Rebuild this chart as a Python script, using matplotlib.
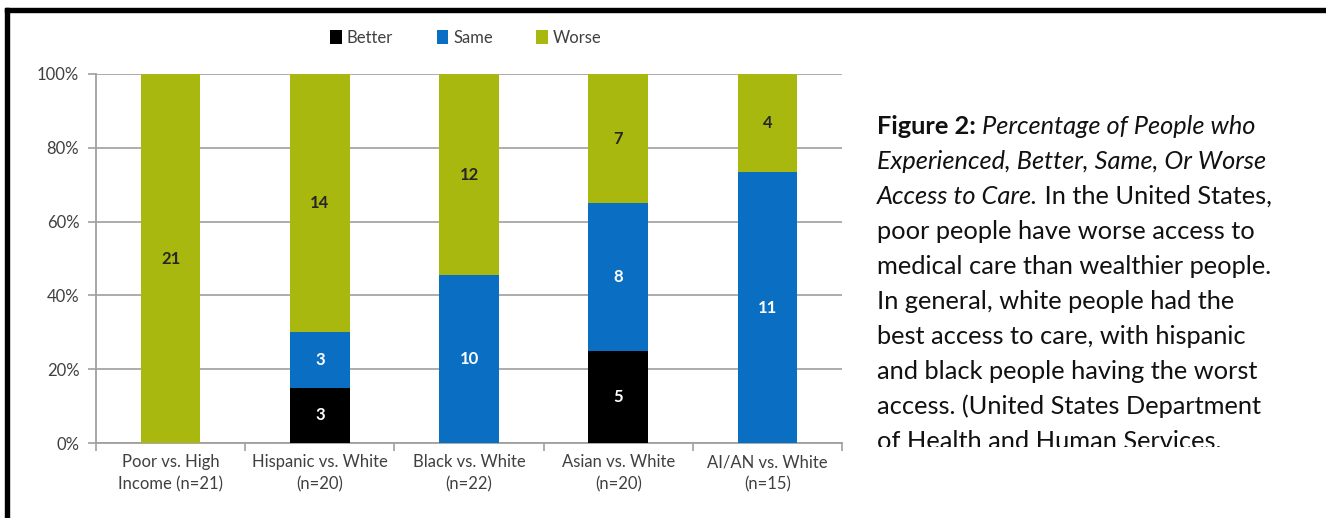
import numpy as np
import matplotlib.pyplot as plt
from matplotlib.patches import Rectangle
from matplotlib.ticker import PercentFormatter

# counts
groups = ["Poor vs. High\nIncome (n=21)", "Hispanic vs. White\n(n=20)", "Black vs. White\n(n=22)",
          "Asian vs. White\n(n=20)", "AI/AN vs. White\n(n=15)"]
better = np.array([0, 3, 0, 5, 0])
same = np.array([0, 3, 10, 8, 11])
worse = np.array([21, 14, 12, 7, 4])

caption_lines = [
    [("Figure 2:", "normal", "bold"), (" Percentage of People who", "italic", "normal")],
    [("Experienced, Better, Same, Or Worse", "italic", "normal")],
    [("Access to Care.", "italic", "normal"), (" In the United States,", "normal", "normal")],
    [("poor people have worse access to", "normal", "normal")],
    [("medical care than wealthier people.", "normal", "normal")],
    [("In general, white people had the", "normal", "normal")],
    [("best access to care, with hispanic", "normal", "normal")],
    [("and black people having the worst", "normal", "normal")],
    [("access. (United States Department", "normal", "normal")],
    [("of Health and Human Services.", "normal", "normal")],
]

W, H = 1326, 518
plt.rcParams['font.family'] = ['Lato', 'DejaVu Sans']
fig = plt.figure(figsize=(W / 100, H / 100), dpi=100)

total = better + same + worse
colors = {"Better": "#000000", "Same": "#0A6FC2", "Worse": "#A8B80E"}

ax = fig.add_axes([96 / W, 1 - 443 / H, 746 / W, 369 / H])
x = np.arange(len(groups))
bottom = np.zeros(len(groups))
for name, vals, tc in [("Better", better, "white"), ("Same", same, "white"), ("Worse", worse, "#262626")]:
    frac = vals / total
    bars = ax.bar(x, frac, 0.4, bottom=bottom, color=colors[name], label=name, zorder=3)
    labels = [str(v) if v > 0 else "" for v in vals]
    ax.bar_label(bars, labels=labels, label_type='center', color=tc, fontsize=12, fontweight='bold')
    bottom += frac

ax.set_xlim(-0.5, len(groups) - 0.5)
ax.set_ylim(0, 1)
ax.set_yticks(np.arange(0, 1.01, 0.2))
ax.yaxis.set_major_formatter(PercentFormatter(1.0, decimals=0))
ax.set_xticks(x)
ax.set_xticklabels(groups, fontsize=12, color="#404040", linespacing=1.45)
ax.set_xticks(np.arange(-0.5, len(groups)), minor=True)
ax.tick_params(axis='x', which='major', length=0, pad=8)
ax.tick_params(axis='x', which='minor', length=6, color="#A0A0A0", width=1.2)
ax.tick_params(axis='y', length=6, color="#A0A0A0", width=1.2, labelsize=12, labelcolor="#404040", pad=6)
ax.grid(axis='y', color="#A6A6A6", linewidth=1.3, zorder=0)
for s in ["top", "right"]:
    ax.spines[s].set_visible(False)
for s in ["left", "bottom"]:
    ax.spines[s].set_color("#A0A0A0")
    ax.spines[s].set_linewidth(1.3)

leg = fig.legend(loc='center', bbox_to_anchor=(466 / W, 1 - 38 / H), ncol=3, frameon=False,
                 fontsize=12, handlelength=0.7, handleheight=0.9, handletextpad=0.3, columnspacing=2.6)
for t in leg.get_texts():
    t.set_color("#404040")

# caption on the right, last line cut off at the bottom like the source
renderer = fig.canvas.get_renderer()
clip = Rectangle((0, 1 - 447 / H), 1, 447 / H, transform=fig.transFigure, visible=False)
fig.add_artist(clip)
for i, line in enumerate(caption_lines):
    xpos = 877
    ypos = 134 + 35 * i
    for txt, style, weight in line:
        t = fig.text(xpos / W, 1 - ypos / H, txt, fontsize=18.3, style=style, fontweight=weight,
                     va='baseline', ha='left', color="#111111")
        t.set_clip_path(clip)
        xpos += t.get_window_extent(renderer=renderer).width

# black frame lines on top and left
fig.add_artist(Rectangle((5 / W, 1 - 12 / H), 1, 4 / H, transform=fig.transFigure, color="black"))
fig.add_artist(Rectangle((5 / W, 0), 4 / W, 1 - 8 / H, transform=fig.transFigure, color="black"))

fig.savefig("out.png", dpi=100)
